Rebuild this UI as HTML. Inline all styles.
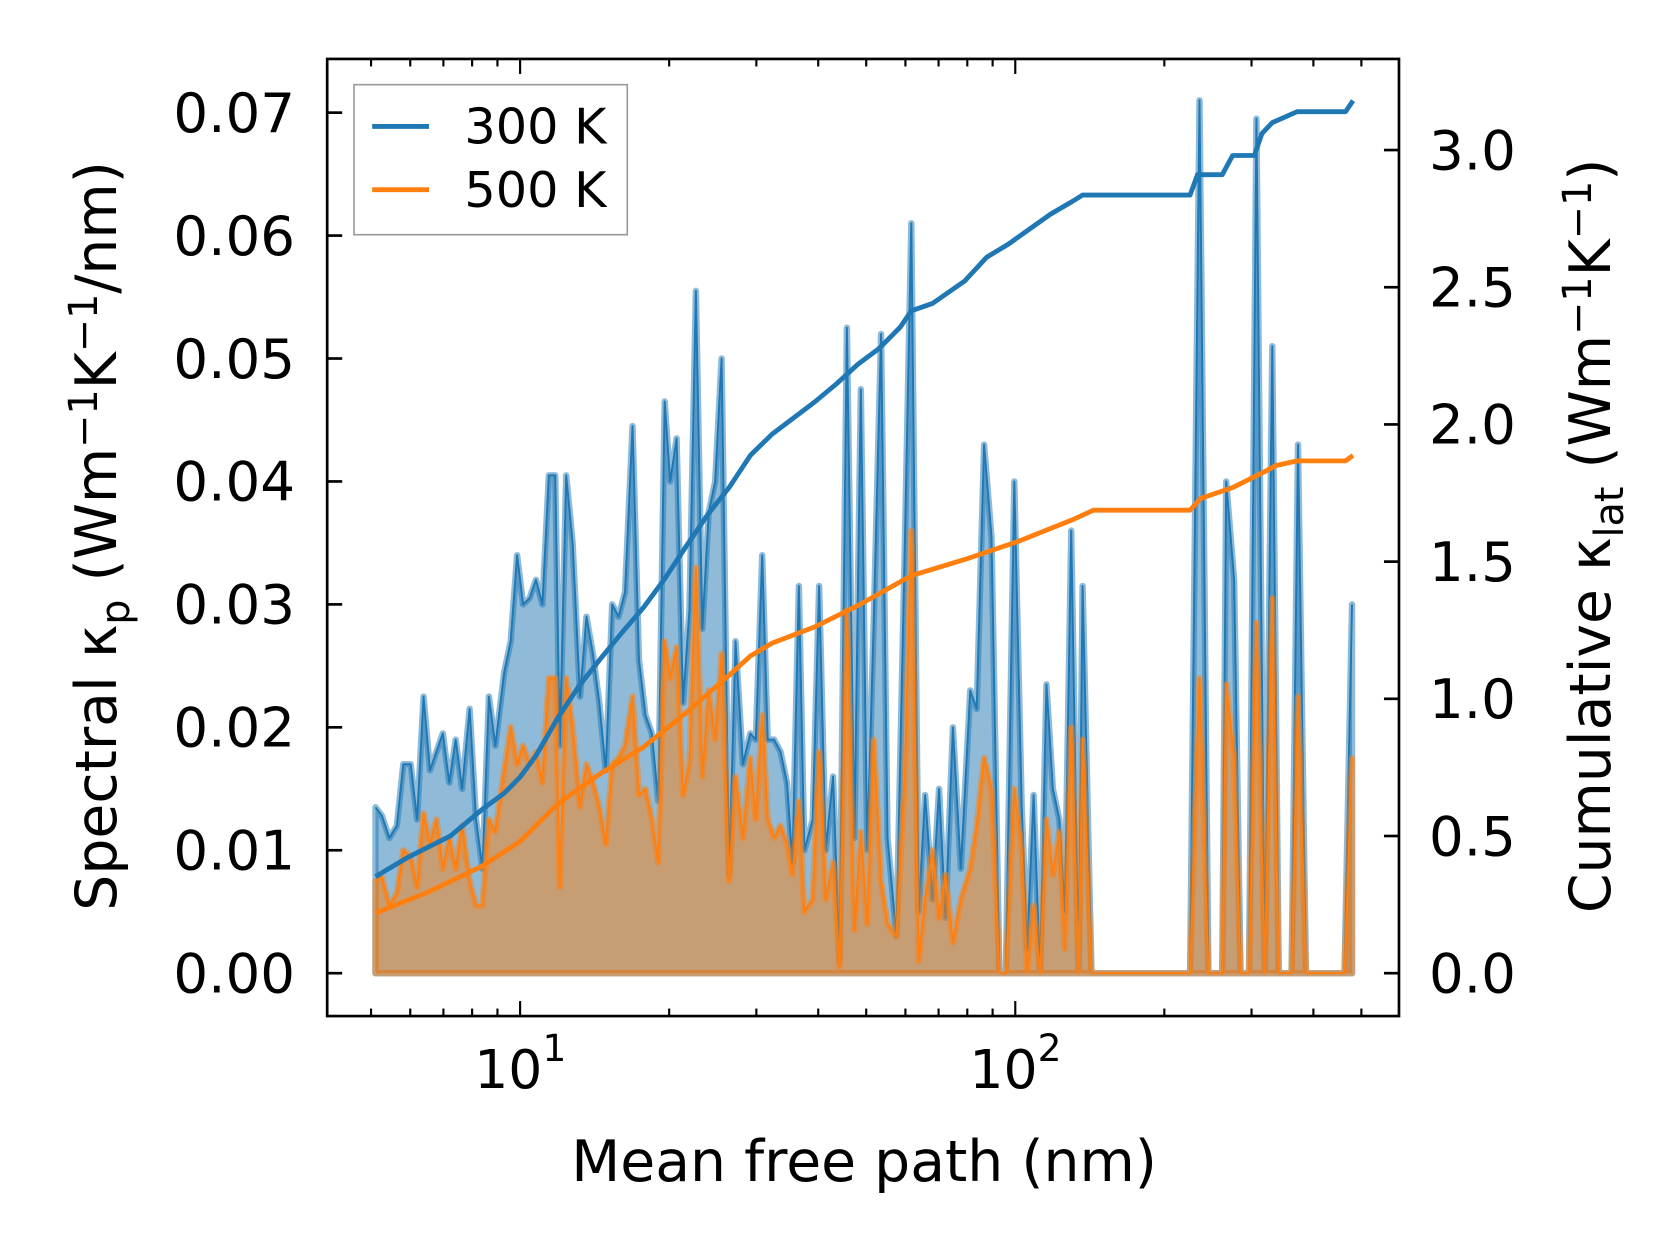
<!DOCTYPE html>
<html><head><meta charset="utf-8"><style>
html,body{margin:0;padding:0;background:#fff;}
svg{display:block;font-family:"DejaVu Sans","Liberation Sans",sans-serif;}
</style></head><body>
<svg id="chart" width="1679" height="1254" viewBox="0 0 1566 1170" xmlns="http://www.w3.org/2000/svg"></svg>
<script>
// ---- data ----
const log10Mfp = [0.708,0.721,0.736,0.751,0.764,0.779,0.792,0.805,0.818,0.831,0.844,0.857,0.870,0.883,0.898,0.911,0.924,0.937,0.950,0.968,0.981,0.994,1.006,1.019,1.032,1.045,1.058,1.071,1.080,1.093,1.106,1.121,1.134,1.147,1.160,1.173,1.186,1.199,1.212,1.227,1.240,1.253,1.266,1.279,1.292,1.303,1.316,1.329,1.342,1.355,1.368,1.381,1.394,1.407,1.422,1.435,1.450,1.465,1.476,1.489,1.500,1.513,1.526,1.539,1.550,1.563,1.574,1.591,1.604,1.617,1.632,1.645,1.660,1.675,1.688,1.701,1.714,1.729,1.742,1.760,1.777,1.790,1.805,1.818,1.833,1.846,1.859,1.874,1.890,1.909,1.922,1.937,1.952,1.968,1.981,1.998,2.013,2.024,2.037,2.050,2.063,2.076,2.089,2.100,2.113,2.128,2.136,2.154,2.353,2.372,2.390,2.418,2.426,2.442,2.455,2.472,2.487,2.504,2.519,2.532,2.558,2.571,2.587,2.665,2.680];
const spectral300 = [.0135,.0128,.011,.012,.017,.017,.0125,.0225,.0165,.018,.0195,.0155,.019,.015,.0215,.0125,.0085,.0225,.0185,.0245,.027,.034,.030,.0305,.032,.030,.0405,.0405,.0185,.0405,.035,.0225,.029,.026,.022,.0165,.030,.029,.031,.0445,.0255,.021,.0195,.014,.0465,.040,.0435,.022,.0295,.0555,.028,.0375,.040,.050,.008,.027,.017,.0195,.019,.034,.019,.019,.018,.0155,.009,.0315,.010,.0125,.0315,.010,.016,.001,.0525,.011,.0475,.010,.0285,.052,.011,.003,.035,.061,.005,.0145,.006,.015,.0045,.020,.0085,.023,.0215,.043,.0355,0,0,.040,.0135,.002,.0145,0,.0235,.015,.0125,.005,.036,0,.0315,0,0,.071,0,0,.040,.032,0,0,.0695,0,.051,0,0,.043,0,0,.030];
const spectral500 = [.0075,.0078,.0055,.0065,.010,.0095,.007,.013,.0105,.0125,.0085,.011,.0085,.012,.0075,.0055,.0055,.0125,.0115,.0165,.020,.017,.0185,.017,.018,.0155,.024,.024,.007,.024,.020,.0135,.017,.0155,.0135,.0105,.017,.0175,.0185,.0225,.0145,.015,.0125,.009,.027,.024,.0265,.0145,.017,.033,.016,.023,.019,.026,.0075,.016,.011,.0175,.0125,.021,.0125,.011,.012,.0105,.008,.014,.005,.006,.018,.006,.009,.0005,.0295,.0035,.0115,.004,.019,.0075,.004,.003,.016,.036,.001,.006,.010,.0045,.008,.0025,.006,.0085,.012,.0175,.015,0,0,.015,.010,0,.0055,0,.0125,.008,.0115,.002,.020,0,.019,0,0,.024,0,0,.0235,.0175,0,0,.0285,0,.0305,0,0,.0225,0,0,.0175];
const cumLog300 = [0.708,0.773,0.859,0.924,0.968,1.0,1.032,1.076,1.119,1.162,1.206,1.249,1.292,1.335,1.379,1.422,1.465,1.509,1.552,1.595,1.639,1.682,1.725,1.768,1.790,1.833,1.898,1.942,1.985,2.028,2.071,2.115,2.136,2.353,2.368,2.418,2.439,2.483,2.498,2.519,2.569,2.667,2.682];
const cum300 = [0.352,0.422,0.5,0.598,0.656,0.715,0.793,0.93,1.047,1.145,1.242,1.332,1.4375,1.555,1.672,1.77,1.887,1.965,2.023,2.082,2.148,2.219,2.277,2.355,2.414,2.441,2.523,2.609,2.656,2.711,2.766,2.8125,2.836,2.836,2.91,2.91,2.98,2.98,3.06,3.10,3.14,3.14,3.18];
const cumLog500 = [0.708,0.816,0.924,1.0,1.076,1.162,1.249,1.335,1.422,1.465,1.509,1.595,1.682,1.790,1.898,2.006,2.115,2.158,2.353,2.374,2.439,2.504,2.526,2.569,2.667,2.682];
const cum500 = [0.219,0.297,0.391,0.48,0.617,0.727,0.824,0.949,1.086,1.156,1.203,1.262,1.34,1.449,1.508,1.574,1.652,1.6875,1.6875,1.73,1.77,1.828,1.85,1.867,1.867,1.887];
const leftTicks = [0,0.01,0.02,0.03,0.04,0.05,0.06,0.07];
const leftTickLabels = ["0.00","0.01","0.02","0.03","0.04","0.05","0.06","0.07"];
const rightTicks = [0,0.5,1,1.5,2,2.5,3];
const rightTickLabels = ["0.0","0.5","1.0","1.5","2.0","2.5","3.0"];
const xMajorExp = [1,2];

// ---- axes ----
const L=305,R=1305,T=55,B=948;
const xS = lg => 485 + (lg-1)*462;
const yL = v => 908 - v*11470;
const yR = v => 908 - v*256;
const svg=document.getElementById('chart');
const NS='http://www.w3.org/2000/svg';
function mk(tag,attrs,parent){const e=document.createElementNS(NS,tag);for(const k in attrs)e.setAttribute(k,attrs[k]);(parent||svg).appendChild(e);return e;}

function areaPath(xs,ys){let d='M'+xS(xs[0])+','+yL(0);for(let i=0;i<xs.length;i++)d+=' L'+xS(xs[i]).toFixed(1)+','+yL(ys[i]).toFixed(1);d+=' L'+xS(xs[xs.length-1])+','+yL(0)+' Z';return d;}
function linePath(xs,ys,yf){let d='';for(let i=0;i<xs.length;i++)d+=(i?' L':'M')+xS(xs[i]).toFixed(1)+','+yf(ys[i]).toFixed(1);return d;}

const a1=mk('path',{d:areaPath(log10Mfp,spectral300),fill:'rgba(31,119,180,0.5)',stroke:'rgba(31,119,180,0.5)','stroke-width':6,'stroke-linejoin':'round'});


const l1=mk('path',{d:linePath(log10Mfp,spectral300,yL),fill:'none',stroke:'#1f77b4','stroke-width':1.8,'stroke-linejoin':'round'});


const a2=mk('path',{d:areaPath(log10Mfp,spectral500),fill:'rgba(255,127,14,0.5)',stroke:'rgba(255,127,14,0.5)','stroke-width':6,'stroke-linejoin':'round'});


const l2=mk('path',{d:linePath(log10Mfp,spectral500,yL),fill:'none',stroke:'#ff7f0e','stroke-width':1.8,'stroke-linejoin':'round'});


const c1=mk('path',{d:linePath(cumLog300,cum300,yR),fill:'none',stroke:'#1f77b4','stroke-width':4.5,'stroke-linejoin':'round'});


const c2=mk('path',{d:linePath(cumLog500,cum500,yR),fill:'none',stroke:'#ff7f0e','stroke-width':4.5,'stroke-linejoin':'round'});



const fr=mk('rect',{x:L,y:T,width:R-L,height:B-T,fill:'none',stroke:'#000','stroke-width':2.5});



leftTicks.forEach((v,i)=>{
  const y=yL(v);
  const t=mk('line',{x1:L,x2:L+14,y1:y,y2:y,stroke:'#000','stroke-width':2.5});
  
  
  const tx=mk('text',{x:275,y:y+18,'font-size':51,'text-anchor':'end',fill:'#000'});
  tx.textContent=leftTickLabels[i];
  
  
});
rightTicks.forEach((v,i)=>{
  const y=yR(v);
  const t=mk('line',{x1:R-14,x2:R,y1:y,y2:y,stroke:'#000','stroke-width':2.5});
  
  
  const tx=mk('text',{x:1333,y:y+18,'font-size':51,'text-anchor':'start',fill:'#000'});
  tx.textContent=rightTickLabels[i];
  
  
});
for(let e=0;e<=2;e++){
  for(let m=1;m<=9;m++){
    const lg=e+Math.log10(m);
    const x=xS(lg);
    if(x<=L+1||x>=R-1)continue;
    const len=m===1?14:7;
    const tb=mk('line',{x1:x,x2:x,y1:B,y2:B-len,stroke:'#000','stroke-width':2});
    
    
    const tt=mk('line',{x1:x,x2:x,y1:T,y2:T+len,stroke:'#000','stroke-width':2});
    
    
  }
}
xMajorExp.forEach(e=>{
  const x=xS(e);
  const tx=mk('text',{x:x-11,y:1015,'font-size':50,'text-anchor':'middle',fill:'#000'});
  tx.textContent='10';
  
  
  const sp=mk('text',{x:x+32,y:990,'font-size':35,'text-anchor':'middle',fill:'#000'});
  sp.textContent=String(e);
  
  
});
</script>
<svg style="position:absolute;left:0;top:0" width="1679" height="1254" viewBox="0 0 1566 1170" xmlns="http://www.w3.org/2000/svg" font-family="DejaVu Sans, Liberation Sans, sans-serif">
  <text x="806" y="1102" font-size="53" text-anchor="middle">Mean free path (nm)</text>
  <text transform="translate(108,500) rotate(-90)" font-size="53" text-anchor="middle">Spectral κ<tspan font-size="37" dy="12">p</tspan><tspan dy="-12"> (Wm</tspan><tspan font-size="37" dy="-18">−1</tspan><tspan dy="18">K</tspan><tspan font-size="37" dy="-18">−1</tspan><tspan dy="18">/nm)</tspan></text>
  <text transform="translate(1502,500) rotate(-90)" font-size="53" text-anchor="middle">Cumulative κ<tspan font-size="37" dy="12">lat</tspan><tspan dy="-12"> (Wm</tspan><tspan font-size="37" dy="-18">−1</tspan><tspan dy="18">K</tspan><tspan font-size="37" dy="-18">−1</tspan><tspan dy="18">)</tspan></text>
  <g>
    <rect x="330" y="79" width="255" height="140" fill="#fff" fill-opacity="0.8" stroke="#999" stroke-width="1.5"/>
    <line x1="347" x2="400" y1="118" y2="118" stroke="#1f77b4" stroke-width="4.5"/>
    <text x="433" y="134" font-size="46">300 K</text>
    <line x1="347" x2="400" y1="177" y2="177" stroke="#ff7f0e" stroke-width="4.5"/>
    <text x="433" y="193" font-size="46">500 K</text>
  </g>
</svg>
</body></html>
